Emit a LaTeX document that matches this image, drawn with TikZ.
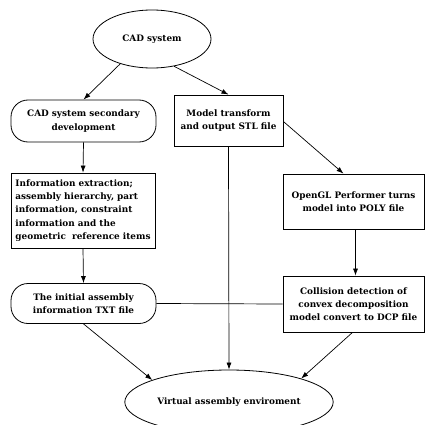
\documentclass[tikz,border=0pt]{standalone}
\usepackage{fontspec}
\setmainfont{DejaVu Serif}
\usetikzlibrary{shapes.geometric,arrows.meta}
\begin{document}
\begin{tikzpicture}[x=1pt,y=-1pt,
  every node/.style={font=\bfseries\fontsize{8.9}{13.3}\selectfont, line width=0.8pt, inner sep=2pt},
  oval/.style={draw, ellipse, align=center},
  pill/.style={draw, rounded corners=17pt, align=center},
  box/.style={draw, align=center},
  arr/.style={line width=0.7pt, -{Latex[length=7pt,width=5pt]}},
  link/.style={line width=0.7pt}]
\useasboundingbox (0,0) rectangle (425,425);

\node[oval, minimum width=118pt, minimum height=58pt] (cad) at (152,39) {CAD system};
\node[pill, minimum width=145pt, minimum height=42pt] (sec) at (83.5,121) {CAD system secondary\\development};
\node[box, minimum width=109pt, minimum height=51pt] (model) at (228.5,120.5) {Model transform\\and output STL file};
\node[box, minimum width=144pt, minimum height=75pt, align=left] (info) at (83,210.5)
  {Information extraction;\\assembly hierarchy, part\\information, constraint\\information and the\\geometric~ reference items};
\node[box, minimum width=141pt, minimum height=55pt] (ogl) at (353.5,201.5) {OpenGL Performer turns\\model into POLY file};
\node[pill, minimum width=145pt, minimum height=40pt] (init) at (83.5,303.5) {The initial assembly\\information TXT file};
\node[box, minimum width=141pt, minimum height=56pt] (coll) at (353.5,304) {Collision detection of\\convex decomposition\\model convert to DCP file};
\node[oval, minimum width=165pt, minimum height=64pt] (virt) at (229,402) {Virtual assembly enviroment};

\draw[arr] (cad.-142) -- (sec.north);
\draw[arr] (cad.-51) -- (model.north);
\draw[arr] ([yshift=-1pt]model.east) -- ([xshift=-10pt]ogl.north);
\draw[arr] (sec.south) -- (info.north);
\draw[arr] (info.south) -- (init.north);
\draw[arr] ([xshift=2pt]ogl.south) -- ([xshift=2pt]coll.north);
\draw[arr] (model.south) -- (virt.north);
\draw[link] (init.east) -- (coll.west);
\draw[arr] (init.south) -- (virt.164);
\draw[arr] ([xshift=-1pt]coll.south) -- (virt.18);
\end{tikzpicture}
\end{document}
